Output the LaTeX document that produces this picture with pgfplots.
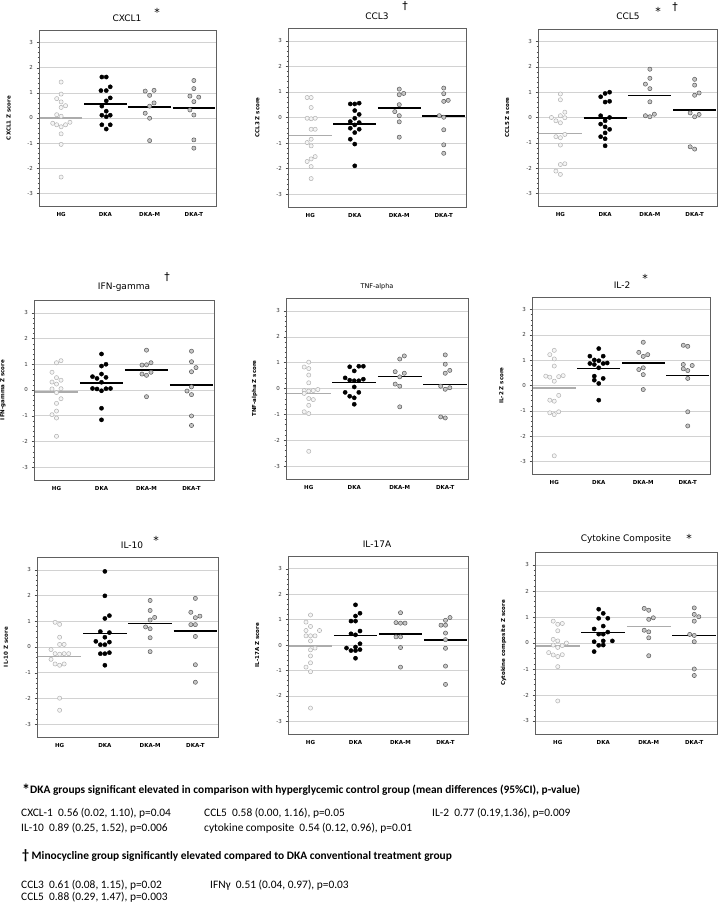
\documentclass[border=0pt]{standalone}
\usepackage{fontspec}
\setmainfont{DejaVu Sans}
\newfontfamily\calib{Carlito}
\usepackage{pgfplots}
\pgfplotsset{compat=1.18}
\pgfplotsset{
 dotplot/.style={
  scale only axis, anchor=south west,
  xmin=-0.5, xmax=3.5, ymin=-3.5, ymax=3.5,
  xtick={0,1,2,3}, xticklabels={HG,DKA,DKA-M,DKA-T},
  xticklabel style={font=\fontsize{5.5}{6}\selectfont\bfseries},
  ytick={-3,-2,-1,0,1,2,3}, yticklabels={-3,-2,-1,0,1,2,3},
  minor y tick num=4,
  yticklabel style={font=\fontsize{5.5}{6}\selectfont, text=black!80},
  ymajorgrids, major grid style={gray!35, line width=0.5pt},
  axis line style={gray!75!black, line width=0.6pt},
  tick align=outside, ytick pos=left, xtick style={draw=none},
  major tick length=2.5pt, minor tick length=1.5pt,
  every tick/.style={gray!60!black, line width=0.4pt},
  ylabel style={at={(axis description cs:-0.172,0.5)}, anchor=center, font=\fontsize{5.5}{6}\selectfont\bfseries},
  clip=false,
 },
 hg/.style={only marks, mark=*, mark size=2.1pt, mark options={draw=gray!60, fill=gray!8, line width=0.5pt}},
 dk/.style={only marks, mark=*, mark size=2.1pt, mark options={draw=black, fill=black}},
 dm/.style={only marks, mark=*, mark size=2.1pt, mark options={draw=gray!70!black, fill=gray!45, line width=0.5pt}},
 mh/.style={gray!65, line width=1.5pt, no marks},
 mk/.style={black, line width=1.5pt, no marks},
}
\newcommand{\ttl}[3]{\node[font=\fontsize{9}{10}\selectfont] at (#1pt,#2pt) {#3};}
\newcommand{\mrk}[3]{\node[font=\fontsize{11}{11}\selectfont, inner sep=0pt] at (#1pt,#2pt) {#3};}
\begin{document}
\begin{tikzpicture}
\useasboundingbox (0pt,0pt) rectangle (718pt,904pt);
% ---------- Row 1 ----------
\begin{axis}[dotplot, at={(39pt,698pt)}, width=177pt, height=176pt, ylabel={CXCL1 Z score}]
\addplot[hg] coordinates {(0,1.43)(0,0.95)(-0.1,0.77)(0,0.64)(0.1,0.49)(0,0.42)(-0.1,0.13)(0,0.07)(-0.19,-0.21)(-0.1,-0.27)(0,-0.35)(0.1,-0.27)(0.2,-0.17)(0,-0.63)(0,-1.05)(0,-2.35)};
\addplot[dk] coordinates {(0.92,1.63)(1.02,1.63)(0.9,1.09)(1.02,1.09)(1.11,1.24)(1.11,0.8)(1.02,0.68)(0.92,0.47)(1.02,0.27)(0.92,0.11)(1.11,0.11)(1.02,0.05)(0.92,-0.27)(1.11,-0.27)(1.02,-0.44)};
\addplot[dm] coordinates {(1.9,1.07)(2.1,1.1)(2,0.9)(2.1,0.6)(2,0.47)(1.9,0.19)(2,-0.01)(2,-0.9)};
\addplot[dm] coordinates {(3,1.49)(3,1.17)(2.91,0.87)(3.11,0.83)(3,0.65)(2.91,0.32)(3,0.12)(3,-0.87)(3,-1.2)};
\addplot[mh] coordinates {(-0.48,-0.01)(0.48,-0.01)};
\addplot[mk] coordinates {(0.52,0.55)(1.48,0.55)};
\addplot[mk] coordinates {(1.52,0.43)(2.48,0.43)};
\addplot[mk] coordinates {(2.52,0.39)(3.48,0.39)};
\end{axis}
\begin{axis}[dotplot, at={(288pt,697pt)}, width=178pt, height=179pt, ylabel={CCL3 Z score}]
\addplot[hg] coordinates {(-0.07,0.78)(0.02,0.78)(0.02,0.39)(-0.07,-0.03)(0.02,-0.05)(0.11,-0.03)(0.02,-0.46)(0.11,-0.46)(0.02,-0.85)(-0.07,-0.98)(0.02,-1.11)(0.11,-1.53)(0.02,-1.62)(-0.07,-1.72)(0.02,-1.92)(0.02,-2.39)};
\addplot[dk] coordinates {(0.9,0.53)(1,0.53)(1.1,0.56)(1,0.27)(1.1,0.12)(1,-0.03)(0.9,-0.16)(1.1,-0.2)(1,-0.29)(0.9,-0.42)(1.1,-0.46)(1,-0.59)(0.9,-0.85)(1,-1.04)(1,-1.89)};
\addplot[dm] coordinates {(2,1.11)(2,0.89)(2.1,0.94)(2,0.5)(1.9,0.23)(2,0.07)(2,-0.17)(2,-0.77)};
\addplot[dm] coordinates {(3,1.15)(3,0.93)(3,0.63)(3.1,0.67)(2.9,0.07)(3,0.01)(3,-0.48)(3,-1.07)(3,-1.4)};
\addplot[mh] coordinates {(-0.48,-0.70)(0.48,-0.70)};
\addplot[mk] coordinates {(0.52,-0.25)(1.48,-0.25)};
\addplot[mk] coordinates {(1.52,0.38)(2.48,0.38)};
\addplot[mk] coordinates {(2.52,0.05)(3.48,0.05)};
\end{axis}
\begin{axis}[dotplot, at={(538pt,698pt)}, width=179pt, height=177pt, ylabel={CCL5 Z score}]
\addplot[hg] coordinates {(0,0.93)(0,0.7)(0.1,0.21)(0,0.07)(-0.2,0)(-0.1,-0.13)(0,-0.21)(0.1,-0.01)(0.1,-0.67)(-0.1,-0.76)(0,-0.8)(0,-1.09)(0,-1.86)(0.1,-1.83)(-0.1,-2.12)(0,-2.25)};
\addplot[dk] coordinates {(0.9,0.82)(1,0.95)(1.1,1.0)(1,0.61)(1.1,0.64)(0.9,0.07)(1.1,0)(1,-0.13)(0.9,-0.26)(1,-0.37)(1.1,-0.47)(1,-0.61)(0.9,-0.76)(1,-0.84)(1,-1.12)};
\addplot[dm] coordinates {(2,1.91)(2,1.55)(1.9,1.32)(2,1.14)(2,0.62)(1.9,0.07)(2,0.03)(2.1,0.13)};
\addplot[dm] coordinates {(3,1.51)(3,1.28)(3,0.88)(3.1,0.97)(2.9,0.18)(3.1,0.12)(3,0.03)(2.9,-1.16)(3,-1.25)};
\addplot[mh] coordinates {(-0.48,-0.63)(0.48,-0.63)};
\addplot[mk] coordinates {(0.52,-0.03)(1.48,-0.03)};
\addplot[mk] coordinates {(1.52,0.87)(2.48,0.87)};
\addplot[mk] coordinates {(2.52,0.29)(3.48,0.29)};
\end{axis}
% ---------- Row 2 ----------
\begin{axis}[dotplot, at={(34pt,424pt)}, width=180pt, height=180pt, ylabel={IFN-gamma Z score}]
\addplot[hg] coordinates {(0.1,1.14)(0,1.06)(-0.1,0.69)(0,0.48)(-0.1,0.31)(0,0.23)(0.1,0.38)(-0.1,0.04)(0.1,0.05)(0,-0.1)(0.1,-0.34)(0,-0.52)(0,-0.82)(-0.1,-0.96)(0,-1.09)(0,-1.8)};
\addplot[dk] coordinates {(1,1.4)(1,0.93)(1.1,1.0)(0.8,0.52)(0.9,0.45)(1,0.62)(1.1,0.49)(1,0.3)(0.8,0.06)(0.9,0.04)(1,-0.03)(1.1,0.05)(1.2,0.06)(1,-0.71)(1,-1.16)};
\addplot[dm] coordinates {(2,1.55)(1.9,0.97)(2,0.98)(2.1,1.06)(1.9,0.62)(2,0.57)(2.1,0.69)(2,-0.26)};
\addplot[dm] coordinates {(3,1.51)(3,1.1)(3.1,0.87)(3,0.71)(3,0.12)(2.9,-0.04)(3,-0.18)(3,-1.01)(3,-1.38)};
\addplot[mh] coordinates {(-0.48,-0.08)(0.48,-0.08)};
\addplot[mk] coordinates {(0.52,0.27)(1.48,0.27)};
\addplot[mk] coordinates {(1.52,0.78)(2.48,0.78)};
\addplot[mk] coordinates {(2.52,0.19)(3.48,0.19)};
\end{axis}
\begin{axis}[dotplot, at={(286pt,425pt)}, width=182pt, height=181pt, ylabel={TNF-alpha Z score}]
\addplot[hg] coordinates {(0,1.02)(-0.1,0.83)(0,0.77)(0,0.52)(0,0.22)(-0.1,-0.08)(0,-0.1)(0.1,-0.08)(0.2,-0.04)(-0.1,-0.19)(0,-0.39)(0.1,-0.43)(0,-0.65)(-0.1,-0.9)(0,-0.97)(0,-2.43)};
\addplot[dk] coordinates {(0.9,0.84)(1.1,0.86)(1.2,0.86)(1,0.68)(0.8,0.41)(0.9,0.32)(1,0.3)(1.1,0.3)(1.2,0.36)(1,0.06)(0.8,-0.15)(1.1,-0.15)(0.9,-0.3)(1,-0.36)(1,-0.61)};
\addplot[dm] coordinates {(2.1,1.26)(2,1.14)(1.9,0.65)(2.1,0.59)(2,0.45)(1.9,0.17)(2,0.09)(2,-0.71)};
\addplot[dm] coordinates {(3,1.3)(3,0.94)(3.1,0.7)(3,0.59)(2.9,0.09)(3,-0.03)(3.1,0.03)(2.9,-1.1)(3,-1.14)};
\addplot[mh] coordinates {(-0.48,-0.19)(0.48,-0.19)};
\addplot[mk] coordinates {(0.52,0.23)(1.48,0.23)};
\addplot[mk] coordinates {(1.52,0.46)(2.48,0.46)};
\addplot[mk] coordinates {(2.52,0.15)(3.48,0.15)};
\end{axis}
\begin{axis}[dotplot, at={(532pt,430pt)}, width=178pt, height=177pt, ylabel={IL-2 Z score}]
\addplot[hg] coordinates {(0,1.39)(-0.1,1.22)(0,1.05)(0,0.77)(-0.19,0.37)(-0.1,0.33)(0.1,0.35)(0.2,0.39)(0,0.17)(0.1,-0.39)(-0.1,-0.58)(0,-0.62)(-0.1,-1.08)(0,-1.15)(0.1,-1.04)(0,-2.78)};
\addplot[dk] coordinates {(1,1.46)(0.8,1.16)(1.1,1.16)(0.9,1.01)(1,0.98)(0.8,0.87)(0.9,0.83)(1.19,0.89)(1,0.7)(0.9,0.37)(1.1,0.28)(0.9,0.21)(1,0.08)(1,-0.58)(1.1,0.87)};
\addplot[dm] coordinates {(2,1.71)(1.9,1.31)(2,1.15)(2.1,1.22)(1.9,0.63)(2,0.7)(2,0.43)(2,-0.16)};
\addplot[dm] coordinates {(2.9,1.59)(3,1.55)(2.9,0.83)(3.1,0.79)(2.9,0.66)(3,0.59)(3,0.28)(3,-1.04)(3,-1.6)};
\addplot[mh] coordinates {(-0.48,-0.09)(0.48,-0.09)};
\addplot[mk] coordinates {(0.52,0.67)(1.48,0.67)};
\addplot[mk] coordinates {(1.52,0.88)(2.48,0.88)};
\addplot[mk] coordinates {(2.52,0.39)(3.48,0.39)};
\end{axis}
% ---------- Row 3 ----------
\begin{axis}[dotplot, at={(37pt,167pt)}, width=181pt, height=180pt, ylabel={IL-10 Z score}]
\addplot[hg] coordinates {(-0.1,0.96)(0,0.88)(0,0.38)(0,0.1)(0.1,0.1)(-0.19,-0.1)(-0.1,-0.26)(0,-0.28)(0.1,-0.26)(0.2,-0.26)(-0.19,-0.48)(-0.1,-0.66)(0,-0.71)(0.1,-0.66)(0,-1.99)(0,-2.46)};
\addplot[dk] coordinates {(1,2.94)(1,1.99)(1,1.11)(1.1,1.22)(0.9,0.6)(1.1,0.56)(1,0.38)(0.8,0.22)(0.9,0.09)(1,0.09)(1.1,0.19)(0.9,-0.26)(1,-0.26)(1.1,-0.22)(1,-0.71)};
\addplot[dm] coordinates {(2,1.81)(2,1.42)(2,1.05)(2.1,1.15)(1.9,0.78)(2,0.71)(2,0.36)(2,-0.18)};
\addplot[dm] coordinates {(3,1.89)(2.9,1.35)(3,1.14)(3.1,1.2)(2.9,0.87)(3,0.87)(3,0.41)(3,-0.69)(3,-1.37)};
\addplot[mh] coordinates {(-0.48,-0.36)(0.48,-0.36)};
\addplot[mk] coordinates {(0.52,0.53)(1.48,0.53)};
\addplot[mk] coordinates {(1.52,0.91)(2.48,0.91)};
\addplot[mk] coordinates {(2.52,0.63)(3.48,0.63)};
\end{axis}
\begin{axis}[dotplot, at={(288pt,170pt)}, width=180pt, height=178pt, ylabel={IL-17A Z score}]
\addplot[hg] coordinates {(0,1.18)(-0.1,0.9)(0,0.73)(-0.1,0.57)(0.2,0.57)(-0.1,0.36)(0,0.36)(0.1,0.36)(0,0.16)(0,-0.19)(0.1,-0.12)(0,-0.43)(0,-0.7)(-0.1,-0.87)(0,-1.05)(0,-2.48)};
\addplot[dk] coordinates {(1,1.58)(1,1.14)(1.1,1.25)(0.9,0.94)(1,0.94)(0.9,0.44)(1,0.4)(1.1,0.55)(1.1,0.05)(0.8,-0.12)(1,-0.08)(0.9,-0.22)(1.1,-0.18)(1,-0.52)(1,-0.22)};
\addplot[dm] coordinates {(2,1.27)(1.9,0.88)(2,0.86)(2.1,0.86)(1.9,0.32)(2,0.32)(2,-0.1)(2,-0.87)};
\addplot[dm] coordinates {(3.1,1.08)(3,0.97)(2.9,0.78)(3,0.78)(3,0.47)(3,0.21)(3,-0.13)(3,-0.83)(3,-1.55)};
\addplot[mh] coordinates {(-0.48,-0.04)(0.48,-0.04)};
\addplot[mk] coordinates {(0.52,0.38)(1.48,0.38)};
\addplot[mk] coordinates {(1.52,0.44)(2.48,0.44)};
\addplot[mk] coordinates {(2.52,0.19)(3.48,0.19)};
\end{axis}
\begin{axis}[dotplot, at={(535pt,170pt)}, width=182pt, height=182pt, ylabel={Cytokine composite Z score}]
\addplot[hg] coordinates {(-0.1,0.84)(0,0.72)(0.1,0.75)(0,0.47)(-0.1,0.14)(0,0.08)(-0.1,-0.08)(0,-0.17)(0.1,-0.1)(0.19,0)(-0.2,-0.37)(-0.1,-0.46)(0,-0.52)(0.1,-0.45)(0,-0.91)(0,-2.23)};
\addplot[dk] coordinates {(0.9,1.3)(1,1.14)(0.9,0.95)(1.1,0.95)(1,0.65)(0.8,0.54)(0.9,0.34)(1,0.34)(1.1,0.42)(0.8,0.05)(1,0.08)(1.2,0.08)(0.9,-0.09)(1,-0.08)(0.8,-0.33)};
\addplot[dm] coordinates {(1.9,1.33)(2,1.26)(2,0.91)(2.1,0.97)(1.9,0.49)(2,0.43)(2,0.2)(2,-0.49)};
\addplot[dm] coordinates {(3,1.35)(3,1.1)(3.1,1.01)(3,0.84)(2.9,0.33)(3,0.29)(3,0.05)(3,-1.0)(3,-1.25)};
\addplot[mh] coordinates {(-0.48,-0.11)(0.48,-0.11)};
\addplot[mk] coordinates {(0.52,0.41)(1.48,0.41)};
\addplot[mh] coordinates {(1.52,0.64)(2.48,0.64)};
\addplot[mk] coordinates {(2.52,0.29)(3.48,0.29)};
\end{axis}
% ---------- titles ----------
\ttl{127}{886}{CXCL1}
\mrk{157}{892}{*}
\ttl{377}{888}{CCL3}
\mrk{405}{898}{†}
\ttl{628}{888}{CCL5}
\mrk{658}{893}{*}
\mrk{675}{897}{†}
\ttl{124}{617}{IFN-gamma}
\mrk{167}{627}{†}
\node[font=\fontsize{6.5}{7}\selectfont] at (377pt,617pt) {TNF-alpha};
\ttl{622}{619}{IL-2}
\mrk{645}{626}{*}
\ttl{132}{359}{IL-10}
\mrk{156}{364}{*}
\ttl{377}{360}{IL-17A}
\ttl{626}{365}{Cytokine Composite}
\mrk{689}{366}{*}
% ---------- footnotes ----------
\begin{scope}[every node/.style={anchor=base west, inner sep=0pt, font=\calib\fontsize{11.4}{13}\selectfont}]
\node at (22pt,110pt) {\textbf{{\fontsize{16}{16}\selectfont\raisebox{-2pt}{*}}DKA groups significant elevated in comparison with hyperglycemic control group (mean differences (95\%CI), p-value)}};
\node at (21pt,87pt) {CXCL-1\ \ 0.56 (0.02, 1.10), p=0.04};
\node at (204pt,87pt) {CCL5\ \ 0.58 (0.00, 1.16), p=0.05};
\node at (432pt,87pt) {IL-2\ \ 0.77 (0.19,1.36), p=0.009};
\node at (21pt,72pt) {IL-10\ \ 0.89 (0.25, 1.52), p=0.006};
\node at (204pt,72pt) {cytokine composite\ \ 0.54 (0.12, 0.96), p=0.01};
\node at (22pt,44pt) {\textbf{{\fontsize{14}{14}\selectfont †}\ Minocycline group significantly elevated compared to DKA conventional treatment group}};
\node at (21pt,16pt) {CCL3\ \ 0.61 (0.08, 1.15), p=0.02};
\node at (210pt,16pt) {IFNγ\ \ 0.51 (0.04, 0.97), p=0.03};
\node at (21pt,3pt) {CCL5\ \ 0.88 (0.29, 1.47), p=0.003};
\end{scope}
\end{tikzpicture}
\end{document}
